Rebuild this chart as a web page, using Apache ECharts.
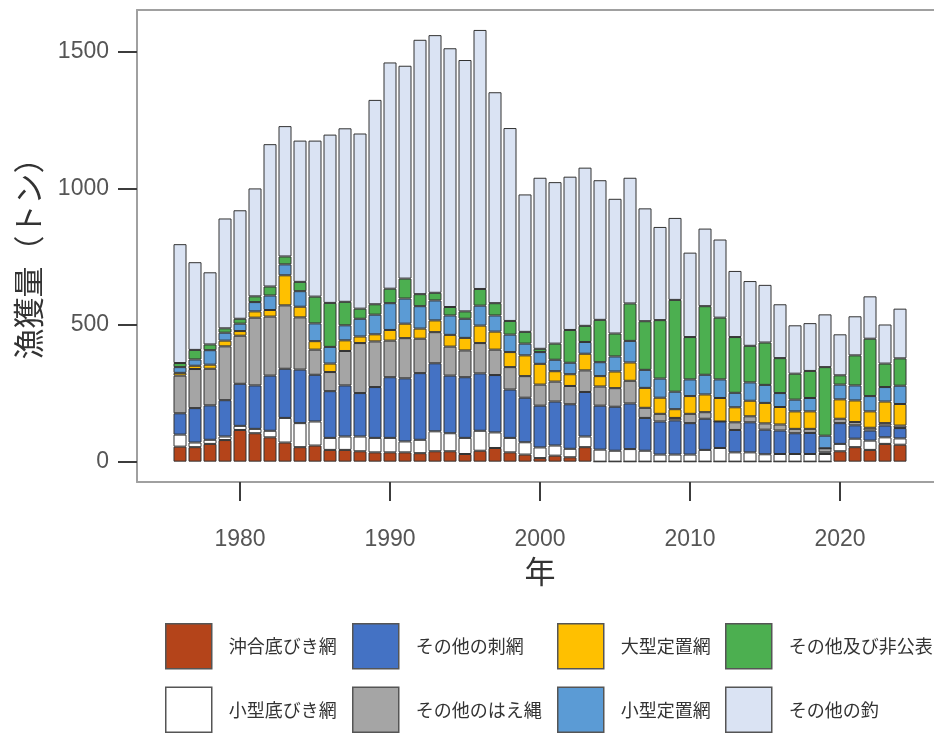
<!DOCTYPE html>
<html>
<head>
<meta charset="utf-8">
<script src="https://cdn.jsdelivr.net/npm/echarts@6/dist/echarts.min.js"></script>
<style>
html,body{margin:0;padding:0;background:#fff;}
#chart{width:934px;height:733px;}
</style>
</head>
<body>
<div id="chart"></div>
<script>
// Years
const years = [1976,1977,1978,1979,1980,1981,1982,1983,1984,1985,1986,1987,1988,1989,1990,1991,1992,1993,1994,1995,1996,1997,1998,1999,2000,2001,2002,2003,2004,2005,2006,2007,2008,2009,2010,2011,2012,2013,2014,2015,2016,2017,2018,2019,2020,2021,2022,2023,2024];

// Series values (トン), bottom to top of the stack
const okiaiSokobiki = [55,53,65,79,116,104,89,70,53,59,43,43,38,34,34,34,31,38,38,28,40,50,34,26,13,22,16,53,0,0,0,0,0,0,0,0,0,0,0,0,0,0,0,0,38,53,43,65,62];
const kogataSokobiki = [44,17,15,13,15,16,24,90,88,88,44,49,54,53,53,40,49,73,66,59,73,57,53,45,39,37,31,39,44,40,46,40,26,26,26,43,50,34,34,27,28,28,28,28,27,31,34,24,23];
const sonotaSashiami = [78,126,126,133,154,159,202,180,196,171,171,187,159,186,222,231,244,249,211,222,210,210,177,163,153,161,163,163,161,161,167,120,121,125,115,114,97,82,110,90,86,76,77,6,76,49,37,43,38];
const sonotaHaenawa = [138,143,134,197,176,248,216,232,191,92,70,126,183,167,134,147,126,114,106,98,111,93,82,79,77,73,67,79,70,68,83,37,28,9,34,24,0,28,22,23,22,16,15,15,16,12,10,9,9];
const ogataTeichi = [10,12,15,21,17,23,24,110,39,31,31,39,24,26,39,53,37,43,43,46,64,66,55,76,76,38,43,61,38,61,67,73,59,32,65,65,86,55,57,75,64,64,64,0,71,79,60,79,79];
const kogataTeichi = [21,23,53,29,27,34,53,40,57,65,61,55,65,72,98,92,82,73,71,70,73,59,64,43,43,42,42,43,51,55,79,66,70,64,61,72,68,53,67,66,51,43,49,46,54,55,56,53,67];
const sonotaHikoku = [15,35,21,16,18,21,33,29,34,98,161,86,37,38,53,73,44,28,31,27,61,45,50,43,12,59,120,59,155,84,137,178,214,336,155,251,226,204,134,155,128,95,99,251,34,110,210,86,100];
const sonotaTsuri = [435,321,264,402,397,395,521,477,517,571,616,635,641,748,828,779,931,943,947,920,948,772,706,503,626,591,561,579,511,493,460,413,341,300,309,284,286,242,237,211,197,177,175,193,150,143,155,143,182];

const seriesNames = ['沖合底びき網','小型底びき網','その他の刺網','その他のはえ縄','大型定置網','小型定置網','その他及び非公表','その他の釣'];
const seriesValues = [okiaiSokobiki,kogataSokobiki,sonotaSashiami,sonotaHaenawa,ogataTeichi,kogataTeichi,sonotaHikoku,sonotaTsuri];
const seriesColors = ['#B4441A','#FFFFFF','#4472C4','#A5A5A5','#FFC000','#5B9BD5','#4CAF50','#DAE3F3'];

// Axis ticks
const yTicks = [0,500,1000,1500];
const xTicks = [1980,1990,2000,2010,2020];

// Legend columns
const legendColumns = [
  ['沖合底びき網','小型底びき網'],
  ['その他の刺網','その他のはえ縄'],
  ['大型定置網','小型定置網'],
  ['その他及び非公表','その他の釣']
];
const legendLefts = [165,352,557,725];

const FONT = "'Liberation Sans','Noto Sans CJK JP',sans-serif";
const JFONT = "'Noto Sans CJK JP','Liberation Sans',sans-serif";

// frame grid value range (plot box bottom at the frame edge)
const Y_MIN = -74, Y_MAX = 1653;
// bar grid extends 19px lower so the x ticks fall inside it
const Y_MIN_BARS = -144;
const TICK_LEN = 19;

const isXTick = (idx, val) => xTicks.indexOf(Number(val)) >= 0;

const chart = echarts.init(document.getElementById('chart'));

const series = seriesNames.map((name,i)=>({
  name: name,
  type: 'bar',
  stack: 'total',
  xAxisIndex: 1,
  yAxisIndex: 1,
  barWidth: 13,
  data: seriesValues[i],
  itemStyle: {color: seriesColors[i], borderColor: '#333', borderWidth: 1},
  emphasis: {disabled: true}
}));

const legends = legendColumns.map((col,i)=>({
  orient: 'vertical',
  left: legendLefts[i],
  top: 623,
  padding: 0,
  itemWidth: 46,
  itemHeight: 45,
  itemGap: 17,
  icon: 'rect',
  data: col,
  selectedMode: false,
  itemStyle: {borderColor: '#555', borderWidth: 1.5},
  textStyle: {fontSize: 18, color: '#333', fontFamily: JFONT, padding: [0,0,0,12]}
}));

chart.setOption({
  animation: false,
  grid: [
    {left: 137, top: 10, right: 0, bottom: 251, show: false, outerBoundsMode: 'none'},
    {left: 172.5, top: 10, width: 735, bottom: 232, show: false, outerBoundsMode: 'none'}
  ],
  legend: legends,
  xAxis: [{
    type: 'value',
    gridIndex: 0,
    min: 1973.133,
    max: 2026.867,
    axisLine: {show: true, onZero: false, lineStyle: {color: '#a0a0a0', width: 2}},
    axisTick: {show: false},
    axisLabel: {show: false},
    splitLine: {show: false}
  }, {
    type: 'category',
    gridIndex: 1,
    data: years,
    name: '年',
    nameLocation: 'middle',
    nameGap: 54,
    nameTextStyle: {fontSize: 31, color: '#333', fontFamily: JFONT},
    axisLine: {show: false, onZero: true, onZeroAxisIndex: 2},
    axisTick: {show: true, alignWithLabel: true, interval: isXTick, length: TICK_LEN, lineStyle: {color: '#3c3c3c', width: 2}},
    axisLabel: {show: true, interval: isXTick, margin: 27, fontSize: 23, color: '#555', fontFamily: FONT}
  }, {
    type: 'value',
    gridIndex: 0,
    position: 'top',
    min: 1973.133,
    max: 2026.867,
    axisLine: {show: true, onZero: false, lineStyle: {color: '#a0a0a0', width: 2}},
    axisTick: {show: false},
    axisLabel: {show: false},
    splitLine: {show: false}
  }],
  yAxis: [{
    type: 'value',
    gridIndex: 0,
    min: Y_MIN,
    max: Y_MAX,
    name: '漁獲量（トン）',
    nameLocation: 'middle',
    nameRotate: 90,
    nameGap: 93,
    nameTextStyle: {fontSize: 31, color: '#333', fontFamily: JFONT, padding: [0,10,0,0]},
    axisLine: {show: true, onZero: false, lineStyle: {color: '#a0a0a0', width: 2}},
    axisTick: {show: true, length: TICK_LEN, customValues: yTicks, lineStyle: {color: '#3c3c3c', width: 2}},
    axisLabel: {customValues: yTicks, margin: 28, fontSize: 23, color: '#555', fontFamily: FONT, formatter: v => String(v)},
    splitLine: {show: false}
  }, {
    type: 'value',
    gridIndex: 1,
    min: Y_MIN_BARS,
    max: Y_MAX,
    show: false
  }, {
    // helper axis: its zero sits on the frame's bottom edge, carrying the x ticks
    type: 'value',
    gridIndex: 1,
    min: -19,
    max: 472,
    show: false
  }],
  series: series
});
</script>
</body>
</html>
